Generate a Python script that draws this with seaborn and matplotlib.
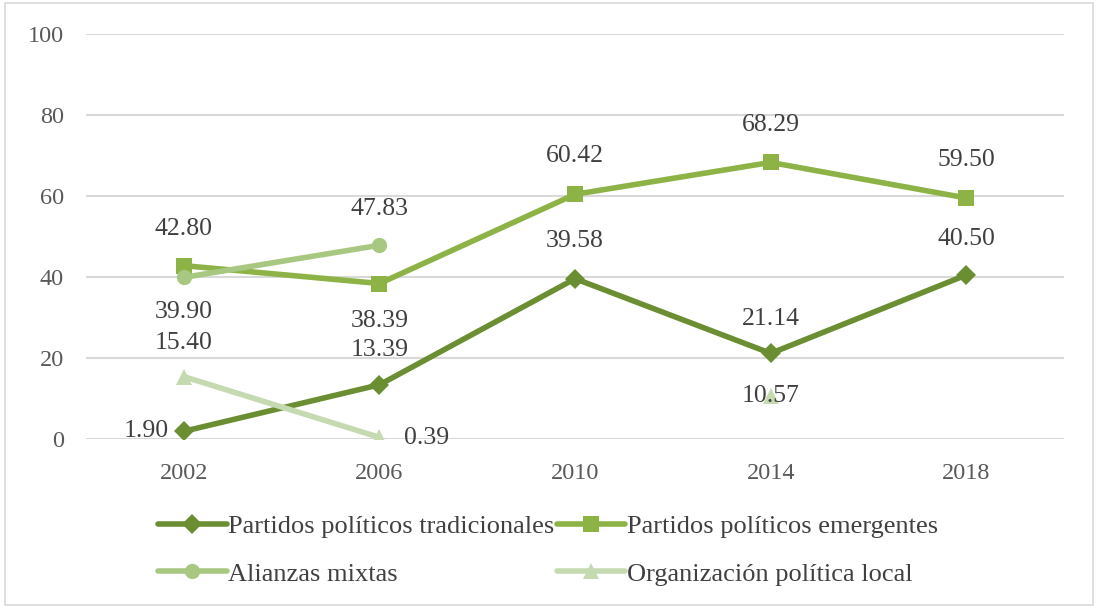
"""Participación por tipo de organización política, 2002-2018."""

import matplotlib.pyplot as plt
import numpy as np
import pandas as pd
import seaborn as sns
from matplotlib.lines import Line2D
from matplotlib.patches import Rectangle


YEARS = ["2002", "2006", "2010", "2014", "2018"]
SERIES = [
    "Partidos políticos tradicionales",
    "Partidos políticos emergentes",
    "Alianzas mixtas",
    "Organización política local",
]
TRADICIONALES = [1.90, 13.39, 39.58, 21.14, 40.50]
EMERGENTES = [42.80, 38.39, 60.42, 68.29, 59.50]
ALIANZAS = [39.90, 47.83, np.nan, np.nan, np.nan]
LOCAL = [15.40, 0.39, np.nan, 10.57, np.nan]

COLORS = ["#6B8E32", "#8DB347", "#A8C882", "#C5DAB0"]
MARKERS = ["D", "s", "o", "^"]
MARKER_SIZES = [10, 11, 11, 11]

# label offsets (pixels) for each point, per series
LABEL_OFFSETS = [
    [(-15, 0, "right"), (0, 35, "center"), (0, 38, "center"), (0, 34, "center"), (0, 36, "center")],
    [(0, 37, "center"), (0, -37, "center"), (0, 38, "center"), (0, 37, "center"), (0, 38, "center")],
    [(0, -35, "center"), (0, 36, "center"), None, None, None],
    [(0, 34, "center"), (25, -1, "left"), None, (0, 0, "center"), None],
]


def main() -> None:
    sns.set_theme(style="white")
    plt.rcParams["font.family"] = ["Liberation Serif", "DejaVu Serif"]

    values = [TRADICIONALES, EMERGENTES, ALIANZAS, LOCAL]
    rows = []
    for name, series_values in zip(SERIES, values):
        segment = 0
        for pos, value in enumerate(series_values):
            if np.isnan(value):
                segment += 1
                continue
            rows.append({"pos": pos, "valor": value, "serie": name, "tramo": segment})
    long_df = pd.DataFrame(rows)

    fig = plt.figure(figsize=(10.96, 6.07), dpi=100)
    ax = fig.add_axes([0.0785, 0.2768, 0.8925, 0.6672])

    for name, color, marker, msize in zip(SERIES, COLORS, MARKERS, MARKER_SIZES):
        sub = long_df[long_df["serie"] == name]
        sns.lineplot(
            data=sub,
            x="pos",
            y="valor",
            units="tramo",
            estimator=None,
            color=color,
            marker=marker,
            markersize=msize,
            markeredgewidth=0,
            linewidth=4,
            legend=False,
            ax=ax,
            zorder=3,
        )

    for series_values, offsets in zip(values, LABEL_OFFSETS):
        for pos, (value, offset) in enumerate(zip(series_values, offsets)):
            if offset is None or np.isnan(value):
                continue
            dx, dy, ha = offset
            ax.annotate(
                f"{value:.2f}",
                (pos, value),
                xytext=(dx, dy),
                textcoords="offset pixels",
                ha=ha,
                va="center",
                fontsize=18.5,
                color="#404040",
                zorder=5,
            )

    ax.set_xlim(-0.5, len(YEARS) - 0.5)
    ax.set_ylim(0, 100)
    ax.set_xticks(range(len(YEARS)))
    ax.set_xticklabels(YEARS)
    ax.set_yticks(range(0, 101, 20))
    ax.set_xlabel("")
    ax.set_ylabel("")
    ax.tick_params(axis="both", length=0, labelsize=17.5, labelcolor="#595959")
    ax.tick_params(axis="x", pad=17)
    ax.tick_params(axis="y", pad=16)
    ax.yaxis.grid(True, color="#D9D9D9", linewidth=1.5)
    ax.set_axisbelow(True)
    sns.despine(ax=ax, left=True, bottom=True)

    handles = [
        Line2D([], [], color=c, marker=m, markersize=s, markeredgewidth=0, linewidth=4)
        for c, m, s in zip(COLORS, MARKERS, MARKER_SIZES)
    ]
    # legend fills column-wise, so reorder to read row by row
    order = [0, 2, 1, 3]
    fig.legend(
        [handles[i] for i in order],
        [SERIES[i] for i in order],
        loc="center",
        bbox_to_anchor=(0.5, 0.094),
        ncol=2,
        frameon=False,
        fontsize=19,
        labelcolor="#404040",
        handlelength=2.6,
        handletextpad=0.05,
        columnspacing=0.1,
        labelspacing=0.92,
    )

    fig.patches.append(
        Rectangle(
            (0.005, 0.004),
            0.992,
            0.991,
            transform=fig.transFigure,
            fill=False,
            edgecolor="#D9D9D9",
            linewidth=1.2,
        )
    )

    fig.savefig("out.png", dpi=100)
    plt.close(fig)


if __name__ == "__main__":
    main()
